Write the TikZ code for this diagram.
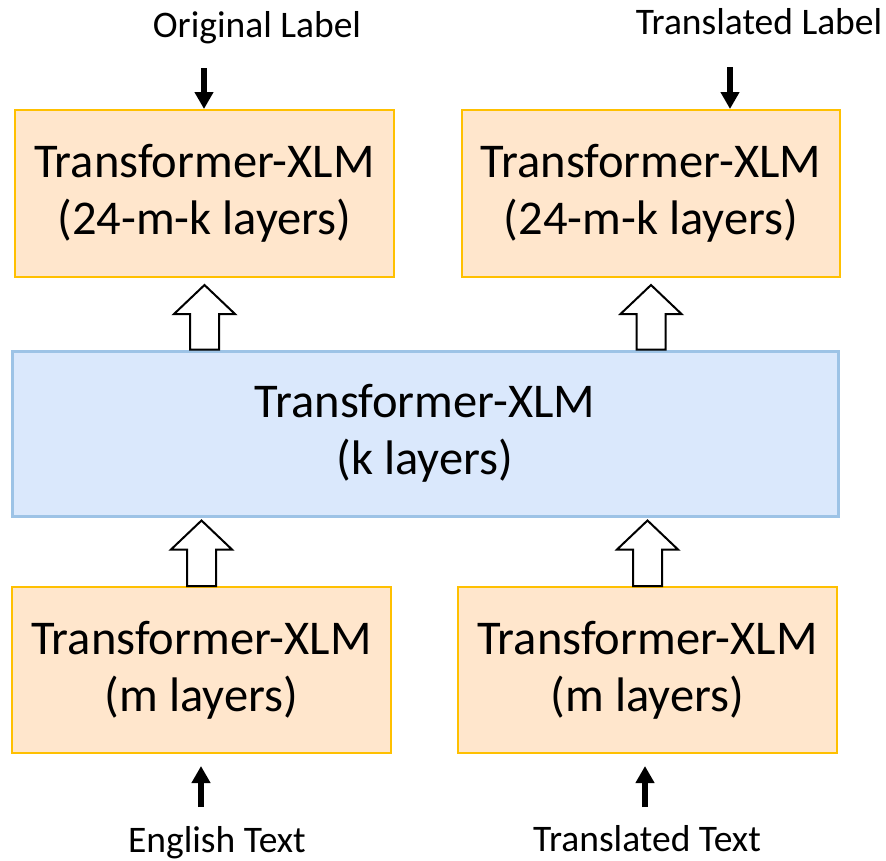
\documentclass[tikz,border=0pt]{standalone}
\usepackage{fontspec}
\setmainfont{Carlito}
\usetikzlibrary{positioning,calc,arrows.meta}

\definecolor{xlmgold}{HTML}{FFC000}
\definecolor{xlmpeach}{HTML}{FFE6CC}
\definecolor{sharedblue}{HTML}{9DC3E6}
\definecolor{sharedfill}{HTML}{DAE8FC}

\tikzset{
    xlm/.style={draw=xlmgold, fill=xlmpeach, line width=2pt, minimum width=379pt, minimum height=167pt,
        align=center, inner sep=0pt, font=\fontsize{48.5}{57}\selectfont},
    shared/.style={xlm, draw=sharedblue, fill=sharedfill, line width=3pt, minimum width=826pt, minimum height=165pt},
    lbl/.style={font=\fontsize{37.5}{45}\selectfont, anchor=base, inner sep=0pt},
    inarrow/.style={line width=6pt, -{Triangle[width=18pt,length=17pt]}},
    blk/.style={draw=black, fill=white, line width=2pt, line join=miter},
}

% hollow block arrow from #1 (tail) up to #2 (tip)
\newcommand{\blockup}[2]{%
    \draw[blk] let \p1=(#1), \p2=(#2) in
        (\x1-14.5pt,\y1) -- (\x1-14.5pt,\y2-29pt) -- (\x1-30.5pt,\y2-29pt) -- (\x1,\y2)
        -- (\x1+30.5pt,\y2-29pt) -- (\x1+14.5pt,\y2-29pt) -- (\x1+14.5pt,\y1) -- cycle;}

\begin{document}
\begin{tikzpicture}[x=1pt,y=-1pt]
    \useasboundingbox (0,0) rectangle (886,860);

    %Boxes
    \node[xlm] (topL) at (204.5,193.5) {Transformer-XLM\\(24-m-k layers)};
    \node[xlm, minimum width=378pt] (topR) at (651,193.5) {Transformer-XLM\\(24-m-k layers)};
    \node[shared] (mid) at (425,433.5) {Transformer-XLM\\(k layers)};
    \node[xlm, minimum height=166pt] (botL) at (201.5,670) {Transformer-XLM\\(m layers)};
    \node[xlm, minimum height=166pt] (botR) at (647.5,670) {Transformer-XLM\\(m layers)};

    %Labels
    \node[lbl] (origLbl) at (257,37) {Original Label};
    \node[lbl] (transLbl) at (759,34) {Translated Label};
    \node[lbl] (engTxt) at (217,852) {English Text};
    \node[lbl] (transTxt) at (647,851) {Translated Text};

    %Input and output arrows
    \coordinate (origIn) at (204,68);
    \coordinate (transIn) at (730,67);
    \coordinate (engIn) at (201,807);
    \coordinate (transTxtIn) at (645,807);
    \draw[inarrow] (origIn) -- (origIn |- topL.north);
    \draw[inarrow] (transIn) -- (transIn |- topR.north);
    \draw[inarrow] (engIn) -- ($(engIn |- botL.south)+(0,12)$);
    \draw[inarrow] (transTxtIn) -- ($(transTxtIn |- botR.south)+(0,12)$);

    %Block arrows
    \blockup{mid.north -| topL.south}{$(topL.south)+(0,7)$}
    \blockup{mid.north -| topR.south}{$(topR.south)+(0,7)$}
    \blockup{botL.north}{$(mid.south -| botL.north)+(0,3)$}
    \blockup{botR.north}{$(mid.south -| botR.north)+(0,3)$}

\end{tikzpicture}
\end{document}
